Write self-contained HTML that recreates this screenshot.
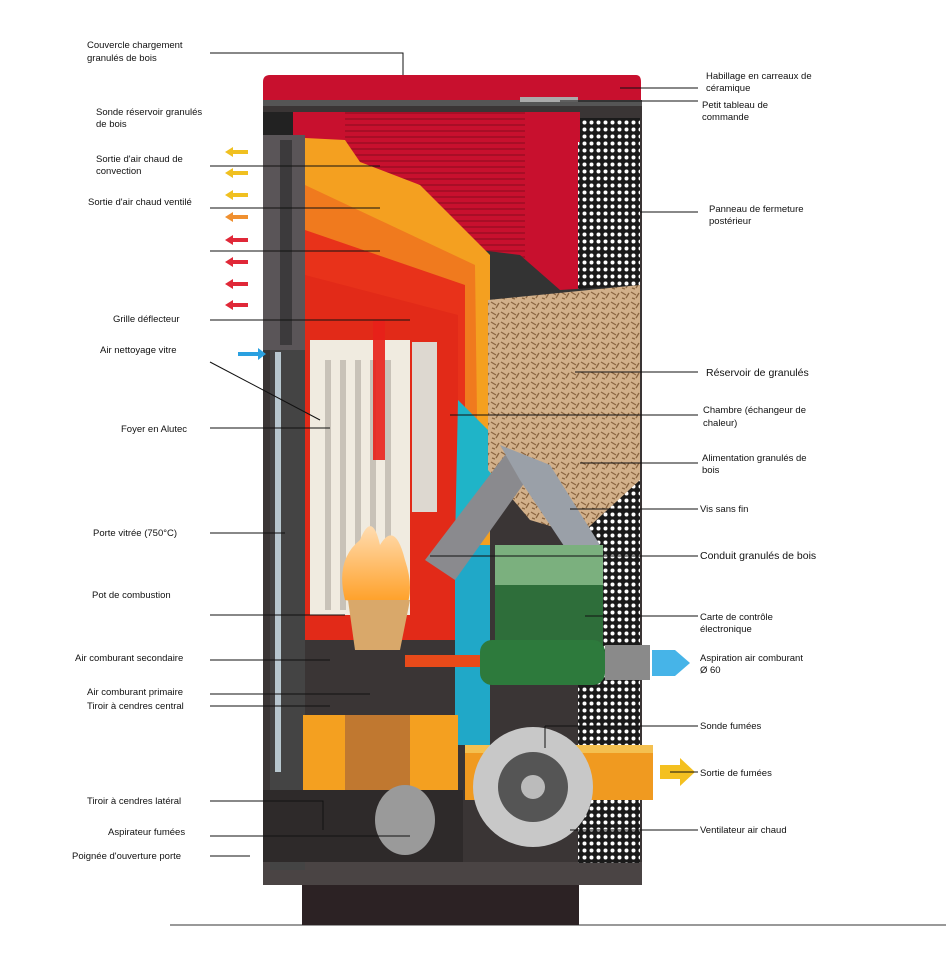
<!DOCTYPE html>
<html><head><meta charset="utf-8"><style>
body{margin:0;background:#fff;width:946px;height:965px;overflow:hidden}
svg{position:absolute;left:0;top:0}
text{font-family:"Liberation Sans",sans-serif;font-size:9.5px;fill:#111}
</style></head><body>
<svg width="946" height="965" viewBox="0 0 946 965">
<defs>
<pattern id="dots" width="7" height="7" patternUnits="userSpaceOnUse"><rect width="7" height="7" fill="#1a1a1a"/><circle cx="3.5" cy="3.5" r="2" fill="#fff"/></pattern>
<pattern id="louv" width="6" height="6" patternUnits="userSpaceOnUse"><rect width="6" height="6" fill="#c8102e"/><rect y="4" width="6" height="2" fill="#a80e26"/></pattern>
<pattern id="pel" width="10" height="10" patternUnits="userSpaceOnUse"><rect width="10" height="10" fill="#d2b08a"/><path d="M1 2l5 3M6 8l3-5M2 8l3 1" stroke="#8a6540" stroke-width="1.3"/></pattern>
<linearGradient id="fire" x1="0" y1="1" x2="0" y2="0"><stop offset="0" stop-color="#ff9a1a"/><stop offset="1" stop-color="#ffdcb0"/></linearGradient>
</defs>
<rect x="170" y="924" width="776" height="2" fill="#999"/>
<rect x="302" y="885" width="277" height="40" fill="#2c2224"/>
<rect x="263" y="100" width="379" height="785" fill="#3a3535"/>
<rect x="263" y="862" width="379" height="23" fill="#4a4444"/>
<path d="M263 82 Q263 75 270 75 L636 75 Q641 75 641 82 L641 102 L263 102Z" fill="#c8102e"/>
<rect x="263" y="100" width="379" height="6" fill="#555"/>
<rect x="520" y="97" width="58" height="5" fill="#aaa"/>
<rect x="578" y="118" width="62" height="745" fill="url(#dots)"/>
<rect x="290" y="112" width="290" height="30" fill="#c8102e"/>
<rect x="345" y="112" width="180" height="170" fill="url(#louv)"/>
<rect x="525" y="112" width="53" height="180" fill="#c8102e"/>
<path d="M480 250 L520 255 L560 290 L640 285 L640 300 L488 300Z" fill="#333"/>
<rect x="263" y="112" width="30" height="30" fill="#222"/>
<rect x="263" y="135" width="42" height="215" fill="#5a5558"/>
<rect x="280" y="140" width="12" height="205" fill="#3c3a3c"/>
<rect x="270" y="350" width="35" height="520" fill="#444"/>
<rect x="275" y="352" width="6" height="420" fill="#b8c8d0"/>
<path d="M305 138 L345 140 L360 162 L420 185 L490 255 L490 640 L305 640Z" fill="#f4a020"/>
<path d="M305 185 L475 265 L480 640 L305 640Z" fill="#f07a1e"/>
<path d="M305 230 L465 285 L465 640 L305 640Z" fill="#e8321a"/>
<path d="M305 275 L458 315 L458 640 L305 640Z" fill="#e22a18"/>
<path d="M458 400 L488 430 L520 470 L455 545Z" fill="#1fb4c8"/>
<rect x="455" y="545" width="35" height="200" fill="#20a8c8"/>
<path d="M488 300 L640 285 L640 480 L580 535 L530 520 L488 470Z" fill="url(#pel)"/>
<rect x="310" y="340" width="100" height="275" fill="#f0ebe0"/>
<g fill="#c8c2b8"><rect x="325" y="360" width="6" height="250"/><rect x="340" y="360" width="6" height="250"/><rect x="355" y="360" width="6" height="250"/><rect x="370" y="360" width="6" height="250"/><rect x="385" y="360" width="6" height="250"/></g>
<rect x="412" y="342" width="25" height="170" fill="#ddd8d0"/>
<rect x="373" y="320" width="12" height="140" fill="#e8201a" opacity=".9"/>
<path d="M345 600 Q335 560 360 540 Q372 510 380 545 Q395 520 405 560 Q415 590 405 610Z" fill="url(#fire)"/>
<path d="M348 600 L410 600 L400 650 L355 650Z" fill="#d9a86a"/>
<path d="M425 560 L505 455 L530 475 L455 580Z" fill="#8a8a8e"/>
<path d="M500 445 L550 465 L600 545 L570 555 L520 480Z" fill="#9aa0a8"/>
<rect x="495" y="545" width="108" height="100" fill="#2e6e3a"/>
<rect x="495" y="545" width="108" height="40" fill="#8fc090" opacity=".8"/>
<rect x="480" y="640" width="125" height="45" rx="12" fill="#2d7a3c"/>
<rect x="605" y="645" width="45" height="35" fill="#8a8a8a"/>
<path d="M652 650 L675 650 L690 663 L675 676 L652 676Z" fill="#46b4e8"/>
<rect x="405" y="655" width="75" height="12" fill="#e84a1a"/>
<rect x="303" y="715" width="155" height="75" fill="#f4a020"/>
<rect x="345" y="715" width="65" height="75" fill="#c07830"/>
<rect x="263" y="790" width="200" height="72" fill="#2e2a2a"/>
<ellipse cx="405" cy="820" rx="30" ry="35" fill="#9a9a9a"/>
<rect x="465" y="745" width="188" height="55" fill="#f09a20"/>
<rect x="465" y="745" width="188" height="8" fill="#f4c050"/>
<circle cx="533" cy="787" r="60" fill="#c8c8c8"/>
<circle cx="533" cy="787" r="35" fill="#555"/>
<circle cx="533" cy="787" r="12" fill="#bbb"/>
<path d="M660 765 L680 765 L680 758 L695 772 L680 786 L680 779 L660 779Z" fill="#f4c020"/>
<g fill="#f0c020"><path d="M225 152 l8-5v3h15v4h-15v3z"/><path d="M225 173 l8-5v3h15v4h-15v3z"/><path d="M225 195 l8-5v3h15v4h-15v3z"/><path d="M225 217 l8-5v3h15v4h-15v3z" fill="#f09030"/></g>
<g fill="#e02838"><path d="M225 240 l8-5v3h15v4h-15v3z"/><path d="M225 262 l8-5v3h15v4h-15v3z"/><path d="M225 284 l8-5v3h15v4h-15v3z"/><path d="M225 305 l8-5v3h15v4h-15v3z"/></g>
<path d="M238 352 h20 v-4 l8 6 -8 6 v-4 h-20z" fill="#2aa0e0"/>
<g stroke="#111" stroke-width="1" fill="none">
<path d="M210 53 H403 V75"/><path d="M210 166 H380"/><path d="M210 208 H380"/><path d="M210 251 H380"/>
<path d="M210 320 H410"/><path d="M210 362 L320 420"/><path d="M210 428 H330"/><path d="M210 533 H285"/>
<path d="M210 615 H345"/><path d="M210 660 H330"/><path d="M210 694 H370"/><path d="M210 706 H330"/>
<path d="M210 801 H323 V830"/><path d="M210 836 H410"/><path d="M210 856 H250"/>
<path d="M620 88 H698"/><path d="M560 101 H698"/><path d="M640 212 H698"/><path d="M575 372 H698"/>
<path d="M450 415 H698"/><path d="M580 463 H698"/><path d="M570 509 H698"/><path d="M430 556 H698"/>
<path d="M585 616 H698"/><path d="M545 726 H698"/><path d="M545 726 V748"/><path d="M670 772 H698"/><path d="M570 830 H698"/>
</g>
<text x="87" y="48">Couvercle chargement</text><text x="87" y="61">granulés de bois</text>
<text x="96" y="115">Sonde réservoir granulés</text><text x="96" y="127">de bois</text>
<text x="96" y="162">Sortie d'air chaud de</text><text x="96" y="174">convection</text>
<text x="88" y="205">Sortie d'air chaud ventilé</text>
<text x="113" y="322">Grille déflecteur</text>
<text x="100" y="353">Air nettoyage vitre</text>
<text x="121" y="432">Foyer en Alutec</text>
<text x="93" y="536">Porte vitrée (750°C)</text>
<text x="92" y="598">Pot de combustion</text>
<text x="75" y="661">Air comburant secondaire</text>
<text x="87" y="695">Air comburant primaire</text>
<text x="87" y="709">Tiroir à cendres central</text>
<text x="87" y="804">Tiroir à cendres latéral</text>
<text x="108" y="835">Aspirateur fumées</text>
<text x="72" y="859">Poignée d'ouverture porte</text>
<text x="706" y="79">Habillage en carreaux de</text><text x="706" y="91">céramique</text>
<text x="702" y="108">Petit tableau de</text><text x="702" y="120">commande</text>
<text x="709" y="212">Panneau de fermeture</text><text x="709" y="224">postérieur</text>
<text x="706" y="376" style="font-size:10.5px">Réservoir de granulés</text>
<text x="703" y="413">Chambre (échangeur de</text><text x="703" y="426">chaleur)</text>
<text x="702" y="461">Alimentation granulés de</text><text x="702" y="473">bois</text>
<text x="700" y="512">Vis sans fin</text>
<text x="700" y="559" style="font-size:10.5px">Conduit granulés de bois</text>
<text x="700" y="620">Carte de contrôle</text><text x="700" y="632">électronique</text>
<text x="700" y="661">Aspiration air comburant</text><text x="700" y="673">Ø 60</text>
<text x="700" y="729">Sonde fumées</text>
<text x="700" y="776">Sortie de fumées</text>
<text x="700" y="833">Ventilateur air chaud</text>
</svg>
</body></html>
